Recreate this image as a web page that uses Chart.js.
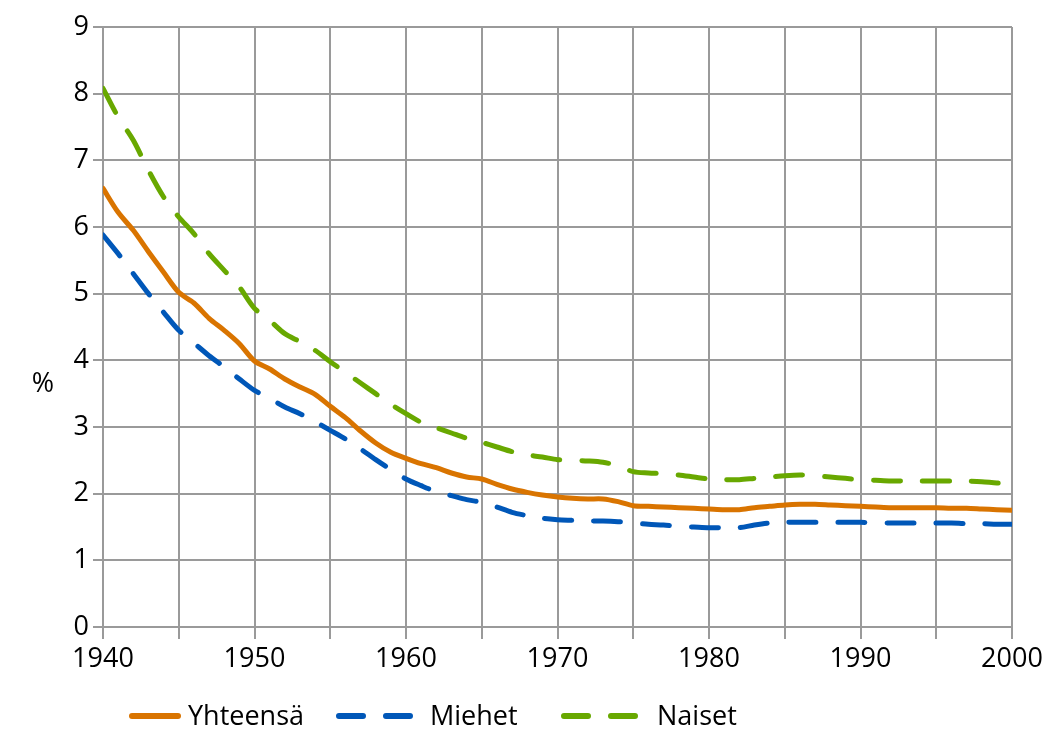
<!DOCTYPE html>
<html>
<head>
<meta charset="utf-8">
<script src="https://cdn.jsdelivr.net/npm/chart.js@4"></script>
<style>
  html, body { margin: 0; padding: 0; background: #fff; }
  #c { display: block; }
</style>
</head>
<body>
<canvas id="c" width="1063" height="754"></canvas>
<script>
const years = [];
for (let y = 1940; y <= 2000; y++) years.push(y);

const yhteensa = [6.58,6.22,5.95,5.63,5.32,5.02,4.86,4.63,4.45,4.25,
  3.99,3.87,3.72,3.60,3.49,3.31,3.14,2.94,2.76,2.62,
  2.53,2.45,2.39,2.31,2.25,2.22,2.14,2.07,2.02,1.98,
  1.95,1.93,1.92,1.92,1.88,1.82,1.81,1.80,1.79,1.78,
  1.77,1.76,1.76,1.79,1.81,1.83,1.84,1.84,1.83,1.82,
  1.81,1.80,1.79,1.79,1.79,1.79,1.78,1.78,1.77,1.76,1.75];

const miehet = [5.88,5.60,5.30,5.00,4.72,4.45,4.26,4.07,3.90,3.72,
  3.55,3.43,3.30,3.20,3.08,2.95,2.82,2.67,2.51,2.36,
  2.22,2.12,2.03,1.97,1.91,1.87,1.80,1.72,1.67,1.63,
  1.61,1.60,1.59,1.59,1.58,1.56,1.54,1.53,1.51,1.50,
  1.49,1.49,1.49,1.53,1.56,1.57,1.57,1.57,1.57,1.57,
  1.57,1.56,1.56,1.56,1.56,1.56,1.56,1.55,1.55,1.54,1.54];

const naiset = [8.08,7.65,7.30,6.85,6.45,6.15,5.90,5.60,5.35,5.10,
  4.78,4.60,4.40,4.28,4.15,3.98,3.82,3.66,3.50,3.34,
  3.20,3.07,2.99,2.91,2.83,2.77,2.70,2.63,2.58,2.55,
  2.51,2.50,2.49,2.47,2.42,2.33,2.31,2.30,2.28,2.25,
  2.22,2.21,2.21,2.23,2.25,2.27,2.28,2.27,2.25,2.23,
  2.21,2.20,2.19,2.19,2.19,2.19,2.19,2.19,2.18,2.16,2.15];

const seriesNames = ['Yhteensä', 'Miehet', 'Naiset'];
const yTickLabels = ['0','1','2','3','4','5','6','7','8','9'];
const xTickLabels = ['1940','1950','1960','1970','1980','1990','2000'];
const yAxisLabel = '%';

const FONT = "'Open Sans', sans-serif";
const COLORS = ['#d97400', '#0057b8', '#68a800'];
const DASH = [27, 22];

function pts(arr) { return arr.map((v, i) => ({ x: years[i], y: v })); }

const extras = {
  id: 'extras',
  afterDraw(chart) {
    const ctx = chart.ctx;
    ctx.save();
    ctx.fillStyle = '#000';
    ctx.font = '27px ' + FONT;
    ctx.textAlign = 'center';
    ctx.textBaseline = 'middle';
    ctx.fillText(yAxisLabel, 43, 384);

    // legend
    const ly = 716;
    const items = [
      { x0: 132, x1: 178, tx: 188 },
      { x0: 339, x1: 413, tx: 430 },
      { x0: 564, x1: 640, tx: 657 }
    ];
    chart.data.datasets.forEach((ds, i) => {
      const it = items[i];
      ctx.beginPath();
      ctx.lineWidth = 6;
      ctx.lineCap = 'round';
      ctx.strokeStyle = ds.borderColor;
      ctx.setLineDash(i === 0 ? [] : [24, 23]);
      ctx.moveTo(it.x0, ly);
      ctx.lineTo(it.x1, ly);
      ctx.stroke();
      ctx.setLineDash([]);
      ctx.textAlign = 'left';
      ctx.fillStyle = '#000';
      ctx.fillText(ds.label, it.tx, ly + 1);
    });
    ctx.restore();
  }
};

new Chart(document.getElementById('c'), {
  type: 'line',
  data: {
    datasets: [
      { label: seriesNames[0], data: pts(yhteensa), borderColor: COLORS[0], borderWidth: 5, pointRadius: 0, tension: 0.3, borderCapStyle: 'round', borderJoinStyle: 'round' },
      { label: seriesNames[1], data: pts(miehet), borderColor: COLORS[1], borderWidth: 5, pointRadius: 0, tension: 0.3, borderDash: DASH, borderCapStyle: 'round', borderJoinStyle: 'round' },
      { label: seriesNames[2], data: pts(naiset), borderColor: COLORS[2], borderWidth: 5, pointRadius: 0, tension: 0.3, borderDash: DASH, borderCapStyle: 'round', borderJoinStyle: 'round' }
    ]
  },
  options: {
    responsive: false,
    animation: false,
    layout: { padding: { left: 0, right: 51, top: 27, bottom: 82 } },
    plugins: { legend: { display: false }, tooltip: { enabled: false } },
    scales: {
      x: {
        type: 'linear',
        min: 1940, max: 2000,
        afterFit(s) { s.height = 45; },
        ticks: {
          stepSize: 5,
          autoSkip: false,
          maxRotation: 0,
          color: '#000',
          padding: 4,
          font: { family: FONT, size: 27 },
          callback: (v) => xTickLabels.includes(String(v)) ? String(v) : ''
        },
        grid: { color: '#9a9a9a', lineWidth: 2, tickLength: 12, drawTicks: true },
        border: { color: '#9a9a9a', width: 2 }
      },
      y: {
        min: 0, max: 9,
        afterFit(s) { s.width = 103; },
        ticks: {
          stepSize: 1,
          color: '#000',
          padding: 4,
          font: { family: FONT, size: 27 },
          callback: (v) => yTickLabels[v] !== undefined ? yTickLabels[v] : ''
        },
        grid: { color: '#9a9a9a', lineWidth: 2, tickLength: 10 },
        border: { color: '#9a9a9a', width: 2 }
      }
    }
  },
  plugins: [extras]
});
</script>
</body>
</html>
